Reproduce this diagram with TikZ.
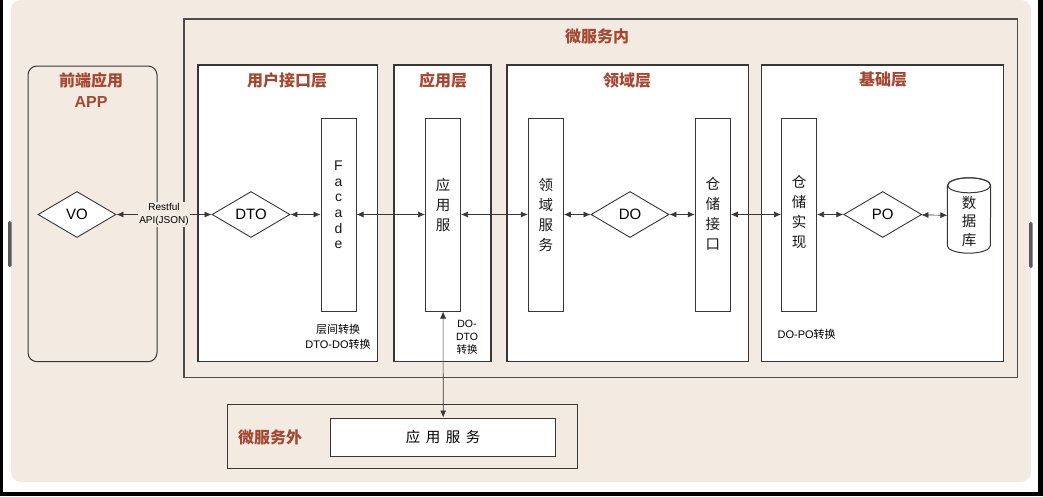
\documentclass[tikz,border=0pt]{standalone}
\usepackage{fontspec}
\setmainfont{Liberation Sans}
\newfontfamily\cjk{Noto Sans CJK SC}
\usetikzlibrary{shapes.geometric,arrows.meta}
\definecolor{panelbg}{RGB}{243,234,226}
\definecolor{titlered}{RGB}{163,72,50}
\definecolor{linegray}{RGB}{55,55,55}
\newcommand{\colwidth}{35pt}
\newcommand{\colheight}{193pt}
\newcommand{\rowy}{214.5}

\tikzset{
  layerbox/.style={draw=linegray, fill=white, line width=1.2pt},
  colbox/.style={draw=linegray, fill=white, line width=1pt, minimum width=\colwidth, minimum height=\colheight, inner sep=0pt},
  coltext/.style={font=\cjk\fontsize{14.5}{20}\selectfont, align=center, inner sep=0pt, text=black!90},
  objbox/.style={diamond, draw=linegray, fill=white, line width=0.9pt, minimum width=78pt, minimum height=46pt, inner sep=0pt, font=\fontsize{15}{18}\selectfont},
  titletext/.style={text=titlered, font=\cjk\bfseries\fontsize{16}{20}\selectfont, inner sep=0pt},
  notetext/.style={font=\fontsize{10.5}{14}\selectfont, align=center, inner sep=0pt},
  biarrow/.style={{Latex[length=7pt,width=6pt]}-{Latex[length=7pt,width=6pt]}, draw=linegray, line width=0.7pt},
}

\begin{document}
\begin{tikzpicture}[x=1pt,y=-1pt]
  % Define the page frame
  \useasboundingbox (0,0) rectangle (1043,496);
  \fill[black] (0,0) rectangle (1043,496);
  \fill[white] (3,0) rectangle (1038,492);
  \fill[panelbg, rounded corners=10pt] (11,0) rectangle (1031,482);
  \fill[black!65, rounded corners=1.5pt] (8,221) rectangle (11.5,267);
  \fill[black!65, rounded corners=1.5pt] (1029,222) rectangle (1032.5,268);

  % Draw the containers
  \draw[draw=black!70, line width=1.3pt] (184,19) rectangle (1017.7,377.7);
  \node[titletext] (inner-title) at (597,36) {微服务内};
  \draw[draw=linegray, line width=1pt, rounded corners=9pt] (28,66) rectangle (157,361.7);
  \node[titletext] (front-title) at (91,80) {前端应用};
  \node[titletext, font=\bfseries\fontsize{16}{20}\selectfont] (front-app) at (91,102) {APP};
  \draw[layerbox] (198,65) rectangle (377.7,361.7);
  \node[titletext] (ui-title) at (287,80) {用户接口层};
  \draw[layerbox] (394,65) rectangle (491,361.7);
  \node[titletext] (app-title) at (443,80) {应用层};
  \draw[layerbox] (507,65) rectangle (748.7,361.7);
  \node[titletext] (dom-title) at (627,80) {领域层};
  \draw[layerbox] (761.3,65) rectangle (1003.3,361.7);
  \node[titletext] (infra-title) at (883,80) {基础层};
  \draw[draw=linegray, line width=1.2pt] (227.7,404.3) rectangle (577.3,468.7);
  \node[titletext] (outer-title) at (270,437) {微服务外};

  % Draw the objects
  \node[objbox] (vo) at (77,\rowy) {VO};
  \node[objbox] (dto) at (251,\rowy) {DTO};
  \node[colbox] (facade) at (338.5,\rowy) {};
  \node[coltext, font=\fontsize{14}{15.6}\selectfont] (facade-text) at (338.5,205) {F\\a\\c\\a\\d\\e};
  \node[colbox] (appsvc) at (443,\rowy) {};
  \node[coltext] (appsvc-text) at (443,205) {应\\用\\服};
  \node[colbox] (domsvc) at (545.8,\rowy) {};
  \node[coltext] (domsvc-text) at (545.8,215) {领\\域\\服\\务};
  \node[objbox] (do) at (630,\rowy) {DO};
  \node[colbox] (repoif) at (712.8,\rowy) {};
  \node[coltext] (repoif-text) at (712.8,214) {仓\\储\\接\\口};
  \node[colbox] (repoimpl) at (799,\rowy) {};
  \node[coltext] (repoimpl-text) at (799,211.5) {仓\\储\\实\\现};
  \node[objbox] (po) at (882.7,\rowy) {PO};
  % the database drum
  \node[minimum width=43pt, minimum height=75pt, inner sep=0pt] (db) at (969,215.5) {};
  \filldraw[fill=white, draw=linegray, line width=1pt]
    ([yshift=-7.5pt]db.north west) -- ([yshift=7.5pt]db.south west)
    arc[start angle=180, end angle=360, x radius=21.5pt, y radius=7.5pt]
    -- ([yshift=-7.5pt]db.north east)
    arc[start angle=0, end angle=180, x radius=21.5pt, y radius=7.5pt] -- cycle;
  \draw[draw=linegray, line width=1pt] ([yshift=-7.5pt]db.north) ellipse [x radius=21.5pt, y radius=7.5pt];
  \node[coltext, font=\cjk\fontsize{14.5}{18.5}\selectfont] (db-text) at (969,221.5) {数\\据\\库};
  \node[draw=linegray, fill=white, line width=1pt, minimum width=225pt, minimum height=38pt, font=\cjk\fontsize{14.5}{18}\selectfont] (extsvc) at (443.2,437) {应\hspace{5.5pt}用\hspace{5.5pt}服\hspace{5.5pt}务};

  % Draw the connectors
  \draw[biarrow] (vo) -- node[fill=panelbg, notetext, font=\fontsize{10}{13}\selectfont, inner sep=1pt] (restful) {Restful\\API(JSON)} (dto);
  \draw[biarrow] (dto) -- (facade);
  \draw[biarrow] (facade) -- (appsvc);
  \draw[biarrow] (appsvc) -- (domsvc);
  \draw[biarrow] (domsvc) -- (do);
  \draw[biarrow] (do) -- (repoif);
  \draw[biarrow] (repoif) -- (repoimpl);
  \draw[biarrow] (repoimpl) -- (po);
  \draw[biarrow] (po) -- (db);
  \draw[biarrow] (appsvc) -- (extsvc);

  % Notes on conversions
  \node[notetext, font=\fontsize{11}{15}\selectfont] (ui-note) at (338,336.5) {{\cjk 层间转换}\\DTO-DO{\cjk 转换}};
  \node[notetext, font=\fontsize{10.5}{13}\selectfont] (app-note) at (467,337) {DO-\\DTO\\{\cjk 转换}};
  \node[notetext, font=\fontsize{11}{15}\selectfont] (infra-note) at (806.7,334.3) {DO-PO{\cjk 转换}};
\end{tikzpicture}
\end{document}
